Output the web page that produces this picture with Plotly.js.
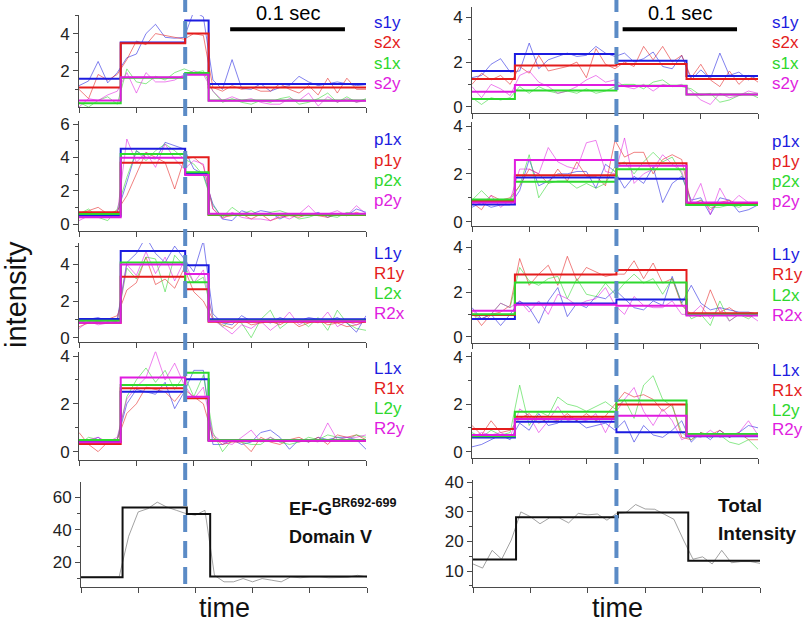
<!DOCTYPE html>
<html><head><meta charset="utf-8">
<script src="https://cdn.plot.ly/plotly-3.0.1.min.js"></script>
<style>html,body{margin:0;padding:0;background:#fff}#chart{width:805px;height:625px}</style>
</head><body><div id="chart"></div>
<script>
// ---------- DATA ----------
const frames = [0,1,2,3,4,5,6,7,8,9,10,11,12,13,14,15,16,17,18,19,20,21,22,23,24,25,26,27,28,29,30];
const tickFrames = [0,6,12,18,24,30];
const stepEdgesL = [0, 4.36, 11.1, 13.55, 30];
const stepEdgesR = [0, 4.5, 15.15, 22.5, 30];
const eventFrameL = 11.1;
const eventFrameR = 15.15;
const scaleBar = [15.8, 27.8];   // 0.1 sec = 12 frames
const scaleText = '0.1 sec';

const labelsRow1 = ['s1y','s2x','s1x','s2y'];
const labelsRow2 = ['p1x','p1y','p2x','p2y'];
const labelsRow3 = ['L1y','R1y','L2x','R2x'];
const labelsRow4 = ['L1x','R1x','L2y','R2y'];

// Left column, row 1
const raw_L1_s1y = [1.2,1.45,2.5,1.35,1.9,2.7,2.9,4.0,4.5,3.8,3.75,3.8,5.2,4.9,1.5,1.0,2.6,1.05,1.0,1.3,0.9,1.1,1.2,1.7,1.4,1.2,1.3,1.4,1.3,1.2,1.25];
const fit_L1_s1y = [1.57,3.52,4.70,1.29];
const raw_L1_s2x = [1.0,0.5,1.8,1.5,1.8,2.6,3.6,3.4,4.0,3.9,3.8,3.7,4.0,3.9,1.1,0.9,1.2,1.0,1.1,0.9,0.9,1.3,1.0,0.8,1.2,0.7,1.6,0.8,1.6,1.0,1.0];
const fit_L1_s2x = [1.10,3.48,4.0,1.10];
const raw_L1_s1x = [0.3,0.05,0.4,0.6,0.2,2.1,1.4,1.3,1.7,1.5,1.9,2.1,1.9,2.0,0.9,0.3,0.5,0.3,0.2,0.4,0.3,0.5,0.6,0.2,0.3,0.5,0.8,0.3,0.6,0.3,0.5];
const fit_L1_s1x = [0.25,1.62,1.88,0.40];
const raw_L1_s2y = [0.05,0.5,0.4,0.7,0.9,1.9,0.8,1.9,1.4,1.4,1.5,1.8,2.0,1.8,0.9,0.4,0.6,0.4,0.5,0.3,0.2,0.2,0.5,0.4,0.8,0.1,0.6,0.3,0.5,0.3,0.4];
const fit_L1_s2y = [0.40,1.65,1.79,0.38];

// Right column, row 1
const raw_R1_s1y = [1.3,1.4,1.9,2.15,1.55,1.6,2.85,1.7,2.1,2.25,2.4,2.25,2.3,2.7,2.4,2.25,2.4,2.0,2.15,2.45,1.8,1.7,2.3,1.2,1.65,1.25,2.4,1.4,1.55,1.2,1.4];
const fit_R1_s1y = [1.6,2.36,2.06,1.37];
const raw_R1_s2x = [1.0,1.5,1.2,1.4,1.0,1.8,1.5,2.3,1.6,1.7,1.8,2.0,1.3,2.6,1.9,1.7,2.0,1.8,2.7,2.1,2.7,2.0,2.3,1.3,1.9,1.2,0.9,1.6,1.0,1.4,1.1];
const fit_R1_s2x = [1.24,1.84,1.91,1.24];
const raw_R1_s1x = [0.4,0.1,0.4,0.3,0.4,0.9,0.6,0.9,0.7,0.6,0.7,0.6,0.8,0.6,0.7,0.9,1.0,1.0,0.8,1.1,1.2,0.9,0.9,0.8,0.5,0.6,0.2,0.3,0.5,0.6,0.4];
const fit_R1_s1x = [0.34,0.72,0.94,0.55];
const raw_R1_s2y = [0.9,0.4,1.0,0.8,0.5,1.4,1.6,1.1,0.9,0.6,0.7,0.9,1.2,1.4,1.1,1.2,0.9,0.8,1.0,0.7,1.0,0.9,1.0,0.7,0.3,0.1,0.6,0.4,0.5,0.7,0.6];
const fit_R1_s2y = [0.67,0.97,0.93,0.55];

// Left column, row 2
const raw_L2_p1x = [0.5,0.6,0.5,0.6,0.7,2.5,4.4,4.0,3.9,4.9,4.7,4.5,3.3,3.0,1.2,0.3,0.2,0.8,0.6,0.8,0.7,0.3,0.6,0.5,0.5,0.7,0.4,0.6,0.5,0.9,0.7];
const fit_L2_p1x = [0.5,4.52,3.0,0.6];
const raw_L2_p1y = [0.6,0.8,1.0,0.6,0.8,1.7,3.0,4.3,4.0,3.7,2.1,3.9,4.0,3.5,0.9,0.4,0.5,0.6,0.3,0.6,0.2,0.4,0.5,0.4,0.6,0.5,0.4,0.6,0.5,0.7,0.5];
const fit_L2_p1y = [0.7,3.68,4.0,0.54];
const raw_L2_p2x = [0.6,0.9,0.4,0.2,0.9,2.8,4.4,3.8,4.4,4.8,4.4,3.9,3.6,2.9,1.1,0.4,1.0,0.6,0.8,0.5,0.7,0.8,0.6,0.3,0.4,0.6,0.5,0.4,0.7,0.6,0.5];
const fit_L2_p2x = [0.6,4.2,3.1,0.55];
const raw_L2_p2y = [0.2,0.5,0.4,0.5,0.6,5.1,3.7,4.3,3.4,4.8,3.9,3.3,3.8,3.6,0.9,0.3,0.7,0.4,0.3,0.3,0.2,0.5,0.3,0.6,1.1,0.5,0.6,0.8,0.5,1.1,0.6];
const fit_L2_p2y = [0.4,3.98,2.94,0.62];

// Right column, row 2
const raw_R2_p1x = [0.6,0.8,0.6,0.7,0.7,1.3,2.6,1.5,1.7,2.0,2.0,2.1,2.1,1.4,2.4,2.1,1.4,1.9,1.6,2.3,0.8,1.6,1.9,0.9,1.0,0.3,1.0,0.9,0.4,0.5,0.7];
const fit_R2_p1x = [0.72,1.85,1.79,0.7];
const raw_R2_p1y = [0.8,0.5,1.1,0.9,1.0,1.5,2.2,2.0,1.6,2.2,1.7,2.5,1.9,1.9,1.5,3.4,2.7,2.9,2.9,2.0,2.6,2.8,2.6,0.7,0.9,0.5,0.8,0.9,0.7,0.8,0.8];
const fit_R2_p1y = [0.86,1.94,2.44,0.75];
const raw_R2_p2x = [0.9,1.3,0.9,0.8,0.9,1.5,2.8,1.0,1.6,1.7,1.7,1.4,1.6,1.4,1.6,2.3,2.5,2.0,2.5,2.9,2.5,2.7,2.0,0.7,0.9,0.6,0.6,0.7,0.6,0.8,0.7];
const fit_R2_p2x = [0.93,1.67,2.19,0.7];
const raw_R2_p2y = [0.9,0.7,1.1,0.6,0.9,2.2,2.2,2.0,3.1,2.5,2.3,2.2,3.3,3.4,2.1,2.0,3.5,1.6,2.0,2.2,2.8,2.4,2.1,0.8,1.6,0.3,1.4,0.7,1.1,0.8,0.7];
const fit_R2_p2y = [0.8,2.58,2.34,0.8];

// Left column, row 3
const raw_L3_L1y = [0.9,1.0,1.1,0.9,1.0,4.1,4.6,5.5,4.6,4.1,5.0,4.3,3.6,5.3,1.3,0.8,0.7,1.2,0.9,1.0,0.8,1.1,0.9,0.9,1.1,1.0,0.9,1.1,0.8,0.3,1.2];
const fit_L3_L1y = [1.02,4.73,3.96,1.0];
const raw_L3_R1y = [0.6,0.8,0.9,1.0,1.2,2.6,3.0,4.4,2.9,3.2,2.7,3.8,2.5,2.0,1.0,0.7,0.5,1.0,0.7,0.8,0.9,0.7,1.0,0.6,0.8,1.0,0.7,0.8,0.6,0.7,0.9];
const fit_L3_R1y = [0.82,3.33,2.64,0.87];
const raw_L3_L2x = [0.8,1.0,0.9,0.8,0.9,3.8,3.2,4.4,4.3,2.5,4.5,3.9,3.0,3.3,1.1,0.6,1.0,0.8,0.0,1.0,1.5,0.5,0.9,1.0,0.6,1.1,0.4,1.5,0.8,0.5,0.4];
const fit_L3_L2x = [0.93,4.11,3.02,0.93];
const raw_L3_R2x = [0.5,0.9,0.7,0.8,0.9,4.0,3.4,4.7,3.5,4.4,3.1,4.2,3.0,3.7,1.0,0.6,0.2,0.7,0.5,0.9,0.4,0.8,1.4,0.7,1.0,0.8,1.4,0.6,0.9,0.7,0.9];
const fit_L3_R2x = [0.82,4.0,3.47,0.9];

// Right column, row 3
const raw_R3_L1y = [1.3,0.8,1.0,0.5,1.0,1.6,1.3,0.6,1.6,2.2,0.9,1.5,1.3,1.8,1.7,2.1,1.7,1.3,1.2,1.6,1.4,2.7,1.5,2.3,1.5,1.2,1.3,1.2,1.1,1.1,1.0];
const fit_R3_L1y = [0.79,1.49,1.66,1.02];
const raw_R3_R1y = [1.1,0.5,1.0,1.1,1.4,3.5,2.3,2.8,3.2,2.3,3.6,2.5,3.1,2.9,2.7,2.8,2.8,3.4,2.6,3.3,2.4,2.6,1.4,1.0,0.9,2.1,1.1,1.3,1.0,0.9,1.0];
const fit_R3_R1y = [0.97,2.79,2.99,1.05];
const raw_R3_L2x = [1.0,0.8,1.0,1.5,1.3,3.1,2.5,2.3,2.6,2.7,1.7,2.6,1.9,1.8,2.4,1.9,2.4,2.8,2.4,2.6,1.9,2.6,1.5,0.8,1.0,0.5,1.6,0.7,1.0,0.8,1.1];
const fit_R3_L2x = [1.0,2.43,2.43,0.98];
const raw_R3_R2x = [1.2,0.8,1.0,1.5,1.3,1.6,1.1,1.6,1.0,1.9,1.7,1.4,1.6,1.7,2.2,1.4,1.0,1.8,1.4,1.3,1.3,1.6,1.0,1.0,1.4,0.8,1.3,0.7,1.0,1.0,0.7];
const fit_R3_R2x = [1.16,1.43,1.39,0.95];

// Left column, row 4
const raw_L4_L1x = [0.5,0.4,0.6,0.3,0.5,2.0,2.6,2.5,2.4,2.9,1.8,2.5,3.4,3.4,0.3,0.3,0.5,0.3,0.4,0.8,0.9,0.6,0.1,0.5,0.4,0.6,0.5,0.6,0.6,0.5,0.1];
const fit_L4_L1x = [0.42,2.51,3.03,0.47];
const raw_L4_R1x = [0.8,0.3,0.0,0.4,0.5,1.6,2.0,2.7,2.6,2.5,2.1,2.6,2.3,2.0,0.6,0.3,0.4,0.4,0.0,0.6,0.4,0.3,0.5,0.6,0.4,0.6,0.3,0.7,0.6,0.7,0.5];
const fit_L4_R1x = [0.32,2.65,2.23,0.47];
const raw_L4_L2y = [0.3,0.6,0.5,0.4,0.5,2.3,3.0,3.5,2.9,3.4,2.6,3.2,2.3,3.2,0.8,0.0,0.5,0.4,0.3,0.3,0.6,0.4,0.3,0.4,0.6,0.5,0.7,0.6,0.5,0.7,0.6];
const fit_L4_L2y = [0.49,2.79,3.3,0.49];
const raw_L4_R2y = [0.5,0.5,0.6,0.4,0.6,2.2,2.7,3.1,4.2,3.0,3.7,2.8,2.2,2.7,0.7,0.4,0.3,0.6,0.9,0.4,0.6,0.4,0.5,0.4,0.5,0.4,1.2,0.5,0.6,0.6,0.7];
const fit_L4_R2y = [0.39,3.1,2.3,0.45];

// Right column, row 4
const raw_R4_L1x = [0.2,0.3,0.5,0.7,0.5,1.2,0.9,1.6,1.1,1.2,1.5,1.3,1.0,1.1,1.2,0.9,1.3,0.4,1.1,0.7,0.6,0.9,1.3,0.4,0.8,0.5,0.9,0.6,0.8,1.1,1.0];
const fit_R4_L1x = [0.59,1.26,0.81,0.65];
const raw_R4_R1x = [1.1,0.7,1.3,0.8,0.9,1.4,1.6,1.2,1.4,1.3,1.6,1.3,1.6,1.3,1.5,2.0,2.5,2.3,2.4,2.2,1.7,2.0,0.6,0.5,0.8,0.7,0.9,0.6,0.8,0.5,0.5];
const fit_R4_R1x = [0.95,1.47,1.99,0.7];
const raw_R4_L2y = [0.8,0.6,0.9,0.7,0.8,2.8,1.1,1.7,1.5,2.3,2.0,1.9,1.7,1.9,2.1,1.8,2.2,1.4,2.8,3.2,2.2,1.9,0.8,0.5,0.8,0.6,0.7,0.4,0.3,0.5,0.1];
const fit_R4_L2y = [0.65,1.68,2.15,0.74];
const raw_R4_R2y = [0.6,0.8,0.7,0.8,0.6,1.8,1.5,0.8,1.3,1.9,1.3,1.4,1.3,1.6,0.8,1.6,2.2,2.7,1.7,1.1,1.8,1.3,0.5,0.7,0.6,0.9,0.6,0.7,0.8,1.3,0.7];
const fit_R4_R2y = [0.7,1.37,1.51,0.67];

// Bottom row: summed intensity
const raw_L5_total = [10.8,11,11,11,11,36,51,53,57,54,52,50,49,52,12,8,8,10,8,10,9,8,11,10.5,11,11,10.5,10.8,10.8,12,11];
const fit_L5_total = [10.8,53.8,49.7,11.2];
const raw_R5_total = [12.4,11,17,14,20.5,30,28.4,26,28,28,26.3,29.5,29,29.3,27.2,29.5,29.8,32.5,31,30.9,29.2,27.5,20.5,14,14.8,12.4,17,12.8,13.2,13.2,12.6];
const fit_R5_total = [13.9,28.2,29.8,13.5];

const labelL5 = ['EF-G<sup>BR692-699</sup>', 'Domain V'];
const labelR5 = ['Total', 'Intensity'];
const yTitle = 'intensity';
const xTitle = 'time';

// ---------- STYLE / LAYOUT ----------
const W = 805, H = 625;
const COLORS = ['#1c1ce0', '#e41c1c', '#2ed82e', '#e01ce0'];
const FONT = 'Liberation Sans, Arial, sans-serif';

const panels = [
  {side:'L', x0:79, x1:366, top:15,    bot:107,   yr:[0.05,5.0],  dtick:2,  labels:labelsRow1, labTop:23,
   raw:[raw_L1_s1y,raw_L1_s2x,raw_L1_s1x,raw_L1_s2y], fit:[fit_L1_s1y,fit_L1_s2x,fit_L1_s1x,fit_L1_s2y]},
  {side:'L', x0:79, x1:366, top:121,   bot:231,   yr:[-0.42,6.18], dtick:2, labels:labelsRow2, labTop:140,
   raw:[raw_L2_p1x,raw_L2_p1y,raw_L2_p2x,raw_L2_p2y], fit:[fit_L2_p1x,fit_L2_p1y,fit_L2_p2x,fit_L2_p2y]},
  {side:'L', x0:79, x1:366, top:243,   bot:341.5, yr:[-0.21,5.17], dtick:2, labels:labelsRow3, labTop:253,
   raw:[raw_L3_L1y,raw_L3_R1y,raw_L3_L2x,raw_L3_R2x], fit:[fit_L3_L1y,fit_L3_R1y,fit_L3_L2x,fit_L3_R2x]},
  {side:'L', x0:79, x1:366, top:351.7, bot:460,   yr:[-0.35,4.18], dtick:2, labels:labelsRow4, labTop:368,
   raw:[raw_L4_L1x,raw_L4_R1x,raw_L4_L2y,raw_L4_R2y], fit:[fit_L4_L1x,fit_L4_R1x,fit_L4_L2y,fit_L4_R2y]},
  {side:'L', x0:81, x1:367, top:481.7, bot:586.7, yr:[5.0,69.6],  dtick:20, total:true,
   raw:[raw_L5_total], fit:[fit_L5_total]},
  {side:'R', x0:472, x1:758, top:6.7,  bot:112.7, yr:[-0.27,4.48], dtick:2, labels:labelsRow1, labTop:23,
   raw:[raw_R1_s1y,raw_R1_s2x,raw_R1_s1x,raw_R1_s2y], fit:[fit_R1_s1y,fit_R1_s2x,fit_R1_s1x,fit_R1_s2y]},
  {side:'R', x0:472, x1:758, top:121.7, bot:226,  yr:[-0.18,4.18], dtick:2, labels:labelsRow2, labTop:141,
   raw:[raw_R2_p1x,raw_R2_p1y,raw_R2_p2x,raw_R2_p2y], fit:[fit_R2_p1x,fit_R2_p1y,fit_R2_p2x,fit_R2_p2y]},
  {side:'R', x0:472, x1:758, top:240,  bot:342.7, yr:[-0.27,4.33], dtick:2, labels:labelsRow3, labTop:255,
   raw:[raw_R3_L1y,raw_R3_R1y,raw_R3_L2x,raw_R3_R2x], fit:[fit_R3_L1y,fit_R3_R1y,fit_R3_L2x,fit_R3_R2x]},
  {side:'R', x0:472, x1:758, top:351.7, bot:458,  yr:[-0.27,4.21], dtick:2, labels:labelsRow4, labTop:370,
   raw:[raw_R4_L1x,raw_R4_R1x,raw_R4_L2y,raw_R4_R2y], fit:[fit_R4_L1x,fit_R4_R1x,fit_R4_L2y,fit_R4_R2y]},
  {side:'R', x0:473, x1:760, top:480,  bot:586.7, yr:[4.7,40.8],  dtick:10, total:true,
   raw:[raw_R5_total], fit:[fit_R5_total]}
];

const traces = [];
const layout = {
  width: W, height: H, margin:{l:0,r:0,t:0,b:0},
  paper_bgcolor:'#fff', plot_bgcolor:'rgba(0,0,0,0)',
  showlegend:false, annotations:[], shapes:[],
  font:{family:FONT, color:'#222'}
};
const AX = '#4a4a4a';

panels.forEach((p, i) => {
  const n = i + 1;
  const xs = n === 1 ? '' : String(n);
  const xa = 'x' + xs, ya = 'y' + xs;
  const edges = p.side === 'L' ? stepEdgesL : stepEdgesR;
  layout['xaxis' + xs] = {
    domain:[p.x0/W, p.x1/W], range:[0,30], anchor:ya,
    showline:true, linecolor:AX, linewidth:1, mirror:false,
    ticks:'outside', ticklen:5, tickcolor:AX, tickwidth:1,
    tickvals:tickFrames, showticklabels:false, showgrid:false, zeroline:false, fixedrange:true
  };
  layout['yaxis' + xs] = {
    domain:[1 - p.bot/H, 1 - p.top/H], range:p.yr, anchor:xa,
    showline:true, linecolor:AX, linewidth:1,
    ticks:'outside', ticklen:5, tickcolor:AX, tickwidth:1, tick0:0, dtick:p.dtick,
    minor:{dtick:p.dtick/2, ticks:'outside', ticklen:3, tickcolor:AX, showgrid:false},
    tickfont:{family:FONT, size:17, color:'#222'},
    showgrid:false, zeroline:false, fixedrange:true
  };
  p.raw.forEach((r, k) => {
    traces.push({x:frames, y:r, xaxis:xa, yaxis:ya, mode:'lines', hoverinfo:'skip',
      line:{color: p.total ? '#8a8a8a' : COLORS[k], width:0.8}, opacity: p.total ? 1 : 0.7});
  });
  p.fit.forEach((f, k) => {
    traces.push({x:edges, y:[f[0],f[1],f[2],f[3],f[3]], xaxis:xa, yaxis:ya, mode:'lines', hoverinfo:'skip',
      line:{color: p.total ? '#111' : COLORS[k], width:2, shape:'hv'}});
  });
  if (p.labels) {
    const lx = p.side === 'L' ? 372 : 770;
    p.labels.forEach((t, k) => {
      layout.annotations.push({text:t, xref:'paper', yref:'paper', x:lx/W, y:1-(p.labTop + 20*k)/H,
        xanchor:'left', yanchor:'middle', showarrow:false, font:{family:FONT, size:17, color:COLORS[k]}});
    });
  }
});

// event markers (dashed) through each column
[[eventFrameL,'x'],[eventFrameR,'x6']].forEach(([f, xr]) => {
  layout.shapes.push({type:'line', xref:xr, yref:'paper', x0:f, x1:f, y0:1-584/H, y1:1,
    line:{color:'#5b8bc6', width:4, dash:'17px,9px'}, layer:'above'});
});
// scale bars
[['x',29.3],['x6',29.3]].forEach(([xr, py]) => {
  layout.shapes.push({type:'line', xref:xr, yref:'paper', x0:scaleBar[0], x1:scaleBar[1], y0:1-py/H, y1:1-py/H,
    line:{color:'#000', width:4}});
  layout.annotations.push({text:scaleText, xref:xr, yref:'paper', x:(scaleBar[0]+scaleBar[1])/2, y:1-13.5/H,
    xanchor:'center', yanchor:'middle', showarrow:false, font:{family:FONT, size:20, color:'#000'}});
});
// bottom panel labels
labelL5.forEach((t, k) => layout.annotations.push({text:'<b>'+t+'</b>', xref:'paper', yref:'paper',
  x:287/W, y:1-(507 + 30*k)/H, xanchor:'left', yanchor:'middle', showarrow:false,
  font:{family:FONT, size:18, color:'#111'}}));
labelR5.forEach((t, k) => layout.annotations.push({text:'<b>'+t+'</b>', xref:'paper', yref:'paper',
  x:716/W, y:1-(505 + 28*k)/H, xanchor:'left', yanchor:'middle', showarrow:false,
  font:{family:FONT, size:19, color:'#111'}}));
// axis titles
layout.annotations.push({text:yTitle, xref:'paper', yref:'paper', x:16/W, y:1-295/H, textangle:-90,
  xanchor:'center', yanchor:'middle', showarrow:false, font:{family:FONT, size:29, color:'#111'}});
[225, 617].forEach(cx => layout.annotations.push({text:xTitle, xref:'paper', yref:'paper',
  x:cx/W, y:0, xanchor:'center', yanchor:'bottom', showarrow:false,
  font:{family:FONT, size:27, color:'#111'}}));

Plotly.newPlot('chart', traces, layout, {staticPlot:true, displayModeBar:false});
</script>
</body></html>
